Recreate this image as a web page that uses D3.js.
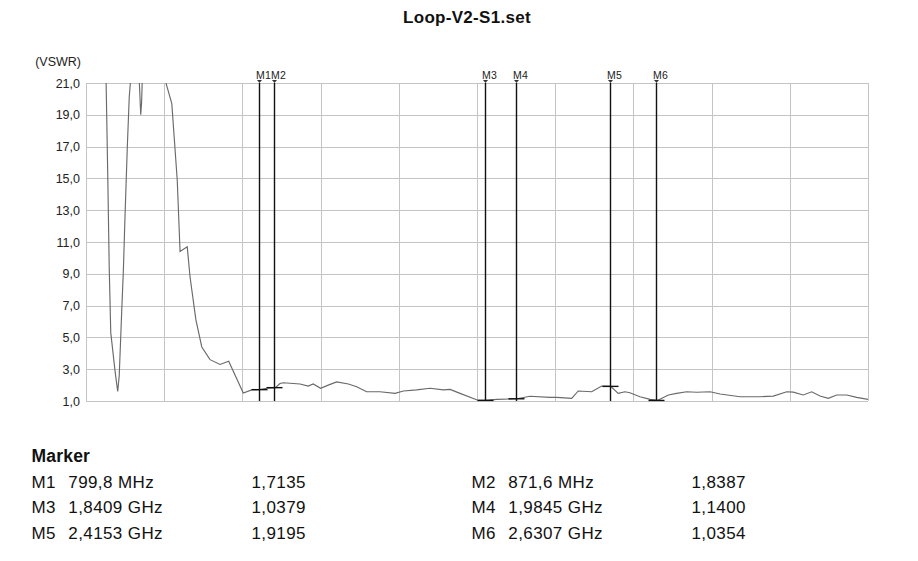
<!DOCTYPE html>
<html>
<head>
<meta charset="utf-8">
<script src="https://cdn.jsdelivr.net/npm/d3@7"></script>
<style>
  html, body { margin: 0; padding: 0; background: #fff; }
  svg { display: block; }
  text { font-family: "Liberation Sans", Arial, sans-serif; }
</style>
</head>
<body>
<svg id="chart" width="918" height="561"></svg>
<script>
// ---- data ----
const title = "Loop-V2-S1.set";
const yLabel = "(VSWR)";
const yTicks = [1, 3, 5, 7, 9, 11, 13, 15, 17, 19, 21];
const xDomain = [0, 3600];          // MHz
const xGridStep = 360;             // MHz per division

const freqMHz = [92, 100, 107, 114, 134, 146, 153, 164, 172, 180,
  190, 199, 206, 225, 245, 252, 256, 259, 300, 364,
  395, 420, 433, 466, 479, 506, 533, 571, 617, 657,
  724, 763, 799.8, 832, 871.6, 893, 908, 985, 1023, 1046,
  1080, 1115, 1154, 1208, 1246, 1292, 1353, 1423, 1461, 1522,
  1584, 1645, 1676, 1722, 1801, 1840.9, 1891, 1984.5, 2044, 2136,
  2167, 2236, 2266, 2328, 2374, 2415.3, 2450, 2481, 2504, 2550,
  2597, 2630.7, 2681, 2719, 2765, 2811, 2873, 2919, 3011, 3103,
  3164, 3226, 3256, 3302, 3341, 3379, 3417, 3456, 3502, 3548,
  3600];
const vswr = [21.5, 15.3, 9.3, 5.3, 2.85, 1.6, 2.6, 6.5, 9.2, 12.8,
  16.9, 20.1, 21.3, 24, 21.2, 19.0, 19.8, 21.2, 25, 21.2,
  19.7, 14.9, 10.4, 10.7, 8.8, 6.1, 4.4, 3.6, 3.3, 3.5,
  1.5, 1.7, 1.7135, 1.8, 1.8387, 2.1, 2.15, 2.07, 1.94, 2.07,
  1.8, 2.0, 2.2, 2.07, 1.9, 1.58, 1.58, 1.48, 1.63, 1.7,
  1.8, 1.7, 1.73, 1.48, 1.06, 1.0379, 1.1, 1.14, 1.3, 1.23,
  1.23, 1.17, 1.63, 1.58, 1.94, 1.9195, 1.48, 1.58, 1.52, 1.27,
  1.1, 1.0354, 1.38, 1.48, 1.58, 1.55, 1.58, 1.44, 1.27, 1.27,
  1.31, 1.58, 1.56, 1.38, 1.58, 1.31, 1.17, 1.38, 1.38, 1.23,
  1.1];

const markerNames = ["M1", "M2", "M3", "M4", "M5", "M6"];
const markerFreq = [799.8, 871.6, 1840.9, 1984.5, 2415.3, 2630.7];
const markerFreqLabels = ["799,8 MHz", "871,6 MHz", "1,8409 GHz", "1,9845 GHz", "2,4153 GHz", "2,6307 GHz"];
const markerValues = [1.7135, 1.8387, 1.0379, 1.1400, 1.9195, 1.0354];

// ---- layout ----
const svg = d3.select("#chart");
const L = 86, R = 868, T = 83, B = 401;

const x = d3.scaleLinear().domain(xDomain).range([L, R]);
const y = d3.scaleLinear().domain([yTicks[0], yTicks[yTicks.length - 1]]).range([B, T]);
const fmt = v => d3.format(".1f")(v).replace(".", ",");
const fmt4 = v => d3.format(".4f")(v).replace(".", ",");

// title
svg.append("text").attr("x", 467).attr("y", 23).attr("text-anchor", "middle")
  .attr("font-size", 17).attr("font-weight", "bold").attr("fill", "#111")
  .attr("letter-spacing", 0.3).text(title);

// y label
svg.append("text").attr("x", 81).attr("y", 66).attr("text-anchor", "end")
  .attr("font-size", 12.5).attr("fill", "#222").text(yLabel);

// grid
const grid = svg.append("g").attr("shape-rendering", "crispEdges");
grid.selectAll("line.h").data(yTicks).join("line").attr("class", "h")
  .attr("x1", L).attr("x2", R).attr("y1", d => Math.round(y(d)) + 0.5).attr("y2", d => Math.round(y(d)) + 0.5)
  .attr("stroke", "#c4c4c4").attr("stroke-width", 1);
const xGrid = d3.range(xDomain[0], xDomain[1] + 1, xGridStep);
grid.selectAll("line.v").data(xGrid).join("line").attr("class", "v")
  .attr("y1", T).attr("y2", B).attr("x1", d => Math.round(x(d)) + 0.5).attr("x2", d => Math.round(x(d)) + 0.5)
  .attr("stroke", "#c4c4c4").attr("stroke-width", 1);

// y axis tick labels
const yAxis = d3.axisLeft(y).tickValues(yTicks).tickFormat(fmt).tickSize(0).tickPadding(6);
const ga = svg.append("g").attr("transform", `translate(${L},0)`).call(yAxis);
ga.select(".domain").remove();
ga.selectAll("text").attr("font-family", "'Liberation Sans', Arial, sans-serif")
  .attr("font-size", 12.5).attr("fill", "#222");

// clip
svg.append("clipPath").attr("id", "plotclip").append("rect")
  .attr("x", L).attr("y", T).attr("width", R - L).attr("height", B - T);

// curve
const pts = freqMHz.map((f, i) => [f, vswr[i]]);
const line = d3.line().x(d => x(d[0])).y(d => y(d[1]));
svg.append("path").datum(pts).attr("clip-path", "url(#plotclip)")
  .attr("d", line).attr("fill", "none").attr("stroke", "#6a6a6a").attr("stroke-width", 1.15);

// markers
const mg = svg.append("g");
markerNames.forEach((n, i) => {
  const mx = Math.round(x(markerFreq[i])) - 0.5;
  mg.append("line").attr("x1", mx).attr("x2", mx).attr("y1", T).attr("y2", B)
    .attr("stroke", "#111").attr("stroke-width", 1.4);
  mg.append("line").attr("x1", mx - 8).attr("x2", mx + 8)
    .attr("y1", y(markerValues[i])).attr("y2", y(markerValues[i]))
    .attr("stroke", "#111").attr("stroke-width", 1.4);
  mg.append("path").attr("d", `M${mx - 2.5},${T - 3}L${mx + 2.5},${T - 3}L${mx},${T}Z`).attr("fill", "#333");
  mg.append("text").attr("x", mx - 3.5).attr("y", 79)
    .attr("font-family", "'DejaVu Sans Mono', monospace").attr("font-size", 10.5)
    .attr("letter-spacing", 0.3).attr("fill", "#222").text(n);
});

// marker table
const tbl = svg.append("g").attr("fill", "#111").attr("font-size", 17).attr("letter-spacing", 0.4);
tbl.append("text").attr("x", 31.5).attr("y", 462).attr("font-weight", "bold").attr("font-size", 17.5)
  .attr("letter-spacing", 0.2).text("Marker");
markerNames.forEach((n, i) => {
  const col = i % 2, row = Math.floor(i / 2);
  const bx = col === 0 ? 31.5 : 471.5;
  const by = 487.5 + row * 25.8;
  tbl.append("text").attr("x", bx).attr("y", by).text(n);
  tbl.append("text").attr("x", bx + 36.8).attr("y", by).text(markerFreqLabels[i]);
  tbl.append("text").attr("x", bx + 220).attr("y", by).text(fmt4(markerValues[i]));
});
</script>
</body>
</html>
